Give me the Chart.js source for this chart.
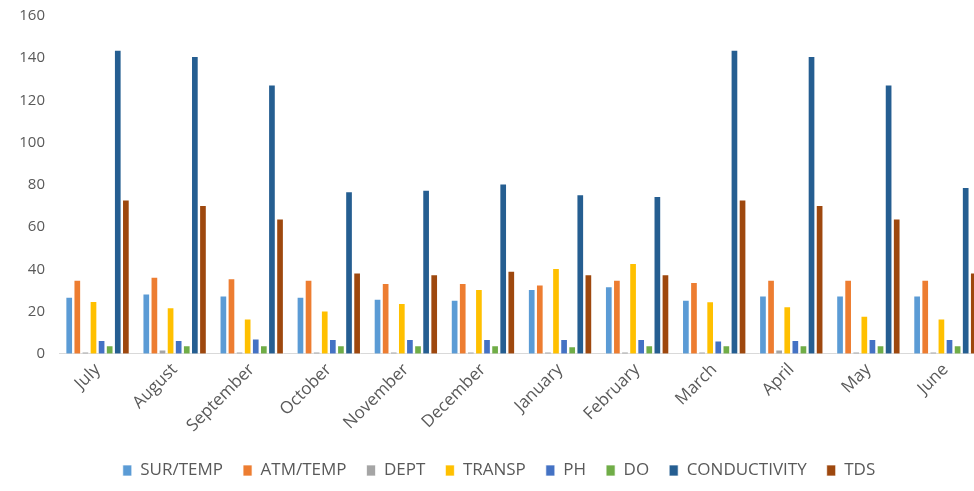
<!DOCTYPE html>
<html>
<head>
<meta charset="utf-8">
<script src="https://cdn.jsdelivr.net/npm/chart.js@4.4.1/dist/chart.umd.min.js"></script>
<style>
    body { margin: 0; overflow: hidden; background: #fff; }
    #wrap { width: 1004px; height: 491px; }
</style>
</head>
<body>
<div id="wrap"><canvas id="grafico"></canvas></div>
<script>
const meses = ['July', 'August', 'September', 'October', 'November', 'December', 'January', 'February', 'March', 'April', 'May', 'June']
const surTemp = [27, 28.5, 27.6, 27, 26, 25.6, 30.6, 32, 25.6, 27.6, 27.6, 27.6]
const atmTemp = [35, 36.5, 35.7, 35, 33.5, 33.5, 32.8, 35, 34, 35, 35, 35]
const dept = [1, 2, 1, 1, 1, 1, 1, 1, 1, 2, 1, 1]
const transp = [25, 22, 16.7, 20.5, 24, 30.6, 40.6, 43, 24.8, 22.5, 18, 16.7]
const ph = [6.5, 6.5, 7.2, 7, 7, 7, 7, 7, 6.3, 6.5, 7, 7]
const oxigeno = [4, 4, 4, 4, 4, 4, 3.5, 4, 4, 4, 4, 4]
const conductividad = [144, 141, 127.6, 77, 77.7, 80.6, 75.6, 74.7, 144, 141, 127.6, 79]
const tds = [73, 70.5, 64, 38.5, 37.7, 39.3, 37.7, 37.7, 73, 70.5, 64, 38.5]
const ticksY = [0, 20, 40, 60, 80, 100, 120, 140, 160]

const series = [
    { label: 'SUR/TEMP', data: surTemp, color: '#5B9BD5' },
    { label: 'ATM/TEMP', data: atmTemp, color: '#ED7D31' },
    { label: 'DEPT', data: dept, color: '#A5A5A5' },
    { label: 'TRANSP', data: transp, color: '#FFC000' },
    { label: 'PH', data: ph, color: '#4472C4' },
    { label: 'DO', data: oxigeno, color: '#70AD47' },
    { label: 'CONDUCTIVITY', data: conductividad, color: '#255E91' },
    { label: 'TDS', data: tds, color: '#9E480E' }
]

Chart.defaults.font.family = '"Open Sans", Lato, sans-serif'
Chart.defaults.color = '#595959'

const ctx = document.getElementById('grafico').getContext('2d')
new Chart(ctx, {
    type: 'bar',
    data: {
        labels: meses,
        datasets: series.map(s => ({
            label: s.label,
            data: s.data,
            backgroundColor: s.color,
            borderColor: 'rgba(255,255,255,0.7)',
            borderWidth: 1,
            barPercentage: 0.95,
            categoryPercentage: 0.84
        }))
    },
    options: {
        responsive: true,
        maintainAspectRatio: false,
        animation: false,
        layout: { padding: { left: 14, right: 20, top: 16, bottom: 2 } },
        plugins: {
            legend: {
                position: 'bottom',
                labels: {
                    boxWidth: 9,
                    boxHeight: 11,
                    padding: 20,
                    font: { size: 17 },
                    color: '#595959'
                }
            },
            tooltip: { enabled: false }
        },
        scales: {
            x: {
                grid: { display: false, drawTicks: false },
                border: { color: '#D9D9D9', width: 1 },
                afterFit: axis => { axis.paddingLeft = 0; axis.paddingRight = 0 },
                ticks: {
                    minRotation: 45,
                    maxRotation: 45,
                    padding: 6,
                    font: { size: 17 }
                }
            },
            y: {
                min: ticksY[0],
                max: ticksY[ticksY.length - 1],
                grid: { display: false, drawTicks: false },
                border: { display: false },
                afterBuildTicks: axis => { axis.ticks = ticksY.map(v => ({ value: v })) },
                afterFit: axis => { axis.width = 45; axis.paddingTop = 0 },
                ticks: {
                    padding: 14,
                    font: { size: 15 }
                }
            }
        }
    }
})
</script>
</body>
</html>
